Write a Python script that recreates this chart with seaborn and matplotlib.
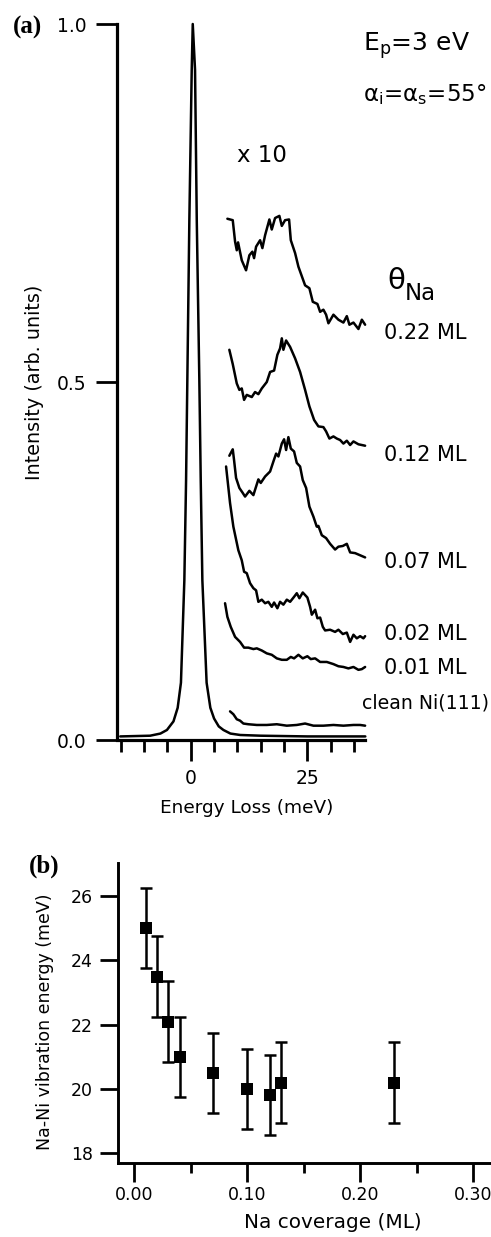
import numpy as np
import pandas as pd
import matplotlib
matplotlib.use("Agg")
import matplotlib.pyplot as plt
import seaborn as sns
from matplotlib.ticker import FixedLocator

# ---------------- data ----------------
# elastic peak (full scale)
peak_x = [-15.1, -8.7, -6.5, -5.1, -3.7, -2.8, -2.1, -1.37, -1.0, -0.73, -0.30, 0.21, 0.43,
          0.92, 1.29, 1.84, 2.14, 2.49, 3.4, 4.2, 5.0, 6.0, 7.0, 8.5, 10.6, 15.0, 25.0, 37.4]
peak_y = [0.005, 0.006, 0.009, 0.014, 0.026, 0.045, 0.080, 0.223, 0.363, 0.503, 0.726, 0.936, 1.0,
          0.936, 0.726, 0.503, 0.363, 0.223, 0.080, 0.045, 0.030, 0.019, 0.014, 0.009, 0.007, 0.006,
          0.005, 0.005]

# x10 spectra
s022_x = [7.85, 9.0, 9.50, 9.86, 10.14, 10.93, 11.85, 12.56, 13.20, 13.57, 14.0, 14.86, 15.35, 15.93,
          16.85, 17.36, 18.07, 18.99, 19.51, 20.21, 21.07, 21.44, 22.36, 23.07, 24.5, 25.42, 26.15,
          27.14, 27.72, 28.42, 29.0, 29.5, 30.57, 31.64, 32.71, 33.44, 34.0, 34.86, 35.93, 36.66, 37.36]
s022_y = [0.728, 0.726, 0.696, 0.684, 0.695, 0.670, 0.656, 0.677, 0.682, 0.673, 0.689, 0.698, 0.687,
          0.705, 0.727, 0.713, 0.729, 0.732, 0.718, 0.726, 0.727, 0.698, 0.680, 0.661, 0.635, 0.631,
          0.612, 0.609, 0.598, 0.601, 0.594, 0.582, 0.594, 0.587, 0.583, 0.592, 0.580, 0.583, 0.574,
          0.587, 0.580]

s012_x = [8.27, 9.0, 9.86, 10.42, 10.93, 11.43, 12.0, 13.08, 13.78, 14.49, 15.22, 16.29, 17.0, 17.86,
          18.56, 19.14, 19.51, 19.85, 20.43, 21.29, 22.36, 23.43, 24.5, 25.42, 26.43, 27.35, 28.42,
          29.0, 29.71, 30.57, 31.3, 32.0, 32.71, 33.44, 34.15, 34.86, 35.93, 37.36]
s012_y = [0.545, 0.525, 0.498, 0.489, 0.491, 0.475, 0.482, 0.479, 0.486, 0.483, 0.491, 0.500, 0.514,
          0.516, 0.538, 0.547, 0.561, 0.545, 0.558, 0.549, 0.533, 0.514, 0.489, 0.466, 0.447, 0.438,
          0.437, 0.431, 0.421, 0.424, 0.421, 0.419, 0.414, 0.418, 0.412, 0.417, 0.413, 0.411]

s007_x = [8.27, 9.0, 9.28, 9.71, 10.42, 11.15, 11.64, 12.56, 13.42, 14.49, 15.0, 15.93, 17.0, 17.71,
          18.29, 18.78, 19.51, 20.0, 20.43, 20.92, 21.44, 22.14, 22.72, 23.43, 24.0, 24.72, 25.42,
          26.28, 27.0, 27.35, 28.08, 29.0, 29.86, 30.93, 31.64, 32.58, 33.44, 34.15, 35.22, 36.29, 37.36]
s007_y = [0.397, 0.406, 0.391, 0.366, 0.352, 0.345, 0.340, 0.348, 0.342, 0.364, 0.359, 0.368, 0.375,
          0.389, 0.400, 0.396, 0.414, 0.420, 0.405, 0.423, 0.407, 0.403, 0.387, 0.382, 0.363, 0.352,
          0.326, 0.312, 0.298, 0.299, 0.286, 0.282, 0.274, 0.266, 0.270, 0.271, 0.274, 0.262, 0.261,
          0.258, 0.255]

s002_x = [7.57, 8.42, 9.13, 10.2, 10.93, 11.43, 12.0, 12.71, 13.42, 14.0, 14.49, 15.22, 15.93, 16.63,
          17.36, 17.86, 18.56, 19.14, 19.85, 20.58, 21.29, 22.14, 22.72, 23.28, 24.0, 24.99, 25.57,
          25.94, 26.65, 27.14, 27.72, 28.3, 28.79, 29.86, 30.93, 31.64, 32.58, 33.44, 34.15, 34.86,
          35.58, 36.29, 37.0, 37.36]
s002_y = [0.382, 0.331, 0.298, 0.265, 0.251, 0.235, 0.233, 0.219, 0.212, 0.209, 0.193, 0.196, 0.191,
          0.193, 0.186, 0.192, 0.184, 0.193, 0.189, 0.196, 0.193, 0.200, 0.205, 0.198, 0.206, 0.199,
          0.186, 0.175, 0.182, 0.170, 0.171, 0.158, 0.153, 0.154, 0.151, 0.154, 0.148, 0.150, 0.137,
          0.147, 0.142, 0.145, 0.142, 0.145]

s001_x = [7.35, 7.85, 8.57, 9.50, 10.57, 11.43, 12.35, 13.42, 14.15, 15.22, 16.29, 17.36, 18.44, 19.51,
          20.58, 21.44, 22.14, 23.07, 24.0, 24.99, 25.72, 26.65, 27.72, 29.15, 30.57, 31.64, 32.71,
          33.78, 34.86, 35.93, 36.66, 37.36]
s001_y = [0.191, 0.172, 0.158, 0.144, 0.137, 0.129, 0.129, 0.127, 0.128, 0.125, 0.121, 0.119, 0.114,
          0.112, 0.112, 0.116, 0.114, 0.119, 0.114, 0.117, 0.113, 0.114, 0.109, 0.109, 0.106, 0.103,
          0.102, 0.100, 0.102, 0.098, 0.099, 0.102]

clean_x = [8.42, 9.13, 9.86, 10.57, 11.28, 12.35, 14.15, 16.29, 18.44, 20.58, 22.72, 24.5, 26.28,
           28.42, 30.57, 32.71, 34.86, 36.29, 37.36]
clean_y = [0.040, 0.036, 0.029, 0.027, 0.023, 0.022, 0.021, 0.021, 0.022, 0.020, 0.021, 0.023, 0.020,
           0.020, 0.021, 0.020, 0.021, 0.021, 0.020]

spectra_labels = ["0.22 ML", "0.12 ML", "0.07 ML", "0.02 ML", "0.01 ML", "clean Ni(111)"]
label_y = [0.569, 0.398, 0.248, 0.148, 0.1006, 0.051]

# panel (b)
coverage = [0.01, 0.02, 0.03, 0.04, 0.07, 0.10, 0.12, 0.13, 0.23]
energy = [25.0, 23.5, 22.1, 21.0, 20.5, 20.0, 19.82, 20.2, 20.2]
energy_err = [1.25, 1.25, 1.25, 1.25, 1.25, 1.25, 1.25, 1.25, 1.25]

# ---------------- style ----------------
sns.set_theme(style="ticks")
plt.rcParams["font.family"] = ["DejaVu Sans"]
plt.rcParams["mathtext.default"] = "regular"
for k in ["text.color", "axes.labelcolor", "axes.edgecolor", "xtick.color", "ytick.color"]:
    plt.rcParams[k] = "black"

W, H = 491, 1237
fig = plt.figure(figsize=(W / 100, H / 100), dpi=100)

# ---------------- panel (a) ----------------
ax = fig.add_axes([117 / W, (H - 740) / H, 248.3 / W, 716 / H])
lw = 1.8
frames = [
    (peak_x, peak_y), (s022_x, s022_y), (s012_x, s012_y), (s007_x, s007_y),
    (s002_x, s002_y), (s001_x, s001_y), (clean_x, clean_y)
]
for xs, ys in frames:
    d = pd.DataFrame({"x": xs, "y": ys})
    sns.lineplot(data=d, x="x", y="y", ax=ax, color="black", lw=lw, sort=False,
                 estimator=None, clip_on=False)

ax.set_xlim(-15.8, 37.4)
ax.set_ylim(0, 1.0)
for s in ["top", "right"]:
    ax.spines[s].set_visible(False)
ax.spines["left"].set_linewidth(2.3)
ax.spines["bottom"].set_linewidth(2.3)
ax.spines["bottom"].set_bounds(-15.2, 37.4)
ax.spines["left"].set_bounds(0, 1.0)
ax.xaxis.set_major_locator(FixedLocator([0, 25]))
ax.xaxis.set_minor_locator(FixedLocator([-15, -10, -5, 5, 10, 15, 20, 30, 35]))
ax.yaxis.set_major_locator(FixedLocator([0.0, 0.5, 1.0]))
ax.set_xticklabels(["0", "25"])
ax.set_yticklabels(["0.0", "0.5", "1.0"])
ax.tick_params(axis="both", which="major", direction="out", length=15, width=2,
               labelsize=13.5)
ax.tick_params(axis="y", which="major", pad=7)
ax.tick_params(axis="x", which="major", pad=6)
ax.tick_params(axis="x", which="minor", direction="out", length=8.5, width=2)
ax.set_xlabel("Energy Loss (meV)", fontsize=13.3)
ax.set_ylabel("Intensity (arb. units)", fontsize=13.8)
ax.xaxis.set_label_coords((247 - 117) / 248.3, (740 - 808) / 716)
ax.xaxis.label.set_va("center")
ax.yaxis.set_label_coords((35 - 117) / 248.3, 0.5)
ax.yaxis.label.set_va("center")

for lab, yv in zip(spectra_labels, label_y):
    if lab.startswith("clean"):
        ax.text(36.66, yv, lab, fontsize=13.6, va="center", ha="left", clip_on=False)
    else:
        ax.text(41.4, yv, lab, fontsize=15, va="center", ha="left", clip_on=False)

def px2ax(x, y):
    return ((x - 117) / 248.3, (740 - y) / 716)

ax.text(*px2ax(387, 281), "θ", fontsize=21, va="center", ha="left",
        transform=ax.transAxes, clip_on=False)
ax.text(*px2ax(405, 294), "Na", fontsize=16.5, va="center", ha="left",
        transform=ax.transAxes, clip_on=False)
ax.text(*px2ax(237, 155), "x 10", fontsize=16.5, va="center", ha="left",
        transform=ax.transAxes, clip_on=False)
ax.text(*px2ax(363, 46), r"E$_{p}$=3 eV", fontsize=18, va="center", ha="left",
        transform=ax.transAxes, clip_on=False)
ax.text(*px2ax(363, 95), r"α$_{i}$=α$_{s}$=55°", fontsize=16.5, va="center", ha="left",
        transform=ax.transAxes, clip_on=False)

fig.text(13 / W, 1 - 27.5 / H, "(a)", fontsize=18, fontweight="bold",
         family="Liberation Serif", va="center", ha="left")

# ---------------- panel (b) ----------------
bx = fig.add_axes([117.7 / W, (H - 1162.7) / H, 1 - 117.7 / W, 299.7 / H])
bx.errorbar(coverage, energy, yerr=energy_err, fmt="none", ecolor="black",
            elinewidth=1.8, capsize=4, capthick=1.8)
dfb = pd.DataFrame({"coverage": coverage, "energy": energy})
sns.scatterplot(data=dfb, x="coverage", y="energy", ax=bx, marker="s", s=85,
                color="black", edgecolor="black", linewidth=0, zorder=3)
bx.set_xlim(-0.0147, 0.3157)
bx.set_ylim(17.71, 27.03)
for s in ["top", "right"]:
    bx.spines[s].set_visible(False)
bx.spines["left"].set_linewidth(2.1)
bx.spines["bottom"].set_linewidth(2.1)
bx.xaxis.set_major_locator(FixedLocator([0.0, 0.1, 0.2, 0.3]))
bx.xaxis.set_minor_locator(FixedLocator([0.05, 0.15, 0.25]))
bx.yaxis.set_major_locator(FixedLocator([18, 20, 22, 24, 26]))
bx.set_xticklabels(["0.00", "0.10", "0.20", "0.30"])
bx.set_yticklabels(["18", "20", "22", "24", "26"])
bx.tick_params(axis="y", which="major", direction="out", length=12.7, width=2,
               labelsize=12.5, pad=5)
bx.tick_params(axis="x", which="major", direction="out", length=13.7, width=2,
               labelsize=12.5, pad=3)
bx.tick_params(axis="x", which="minor", direction="out", length=7.2, width=2)
bx.set_xlabel("Na coverage (ML)", fontsize=14.4)
bx.set_ylabel("Na-Ni vibration energy (meV)", fontsize=12.5)
bx.xaxis.set_label_coords((333 - 117.7) / 373.3, (1162.7 - 1213) / 299.7)
bx.xaxis.label.set_va("top")
bx.yaxis.set_label_coords((45 - 117.7) / 373.3, (1162.7 - 1022) / 299.7)
bx.yaxis.label.set_va("center")

fig.text(29 / W, 1 - 866 / H, "(b)", fontsize=18, fontweight="bold",
         family="Liberation Serif", va="center", ha="left")

fig.savefig("out.png", dpi=100)
